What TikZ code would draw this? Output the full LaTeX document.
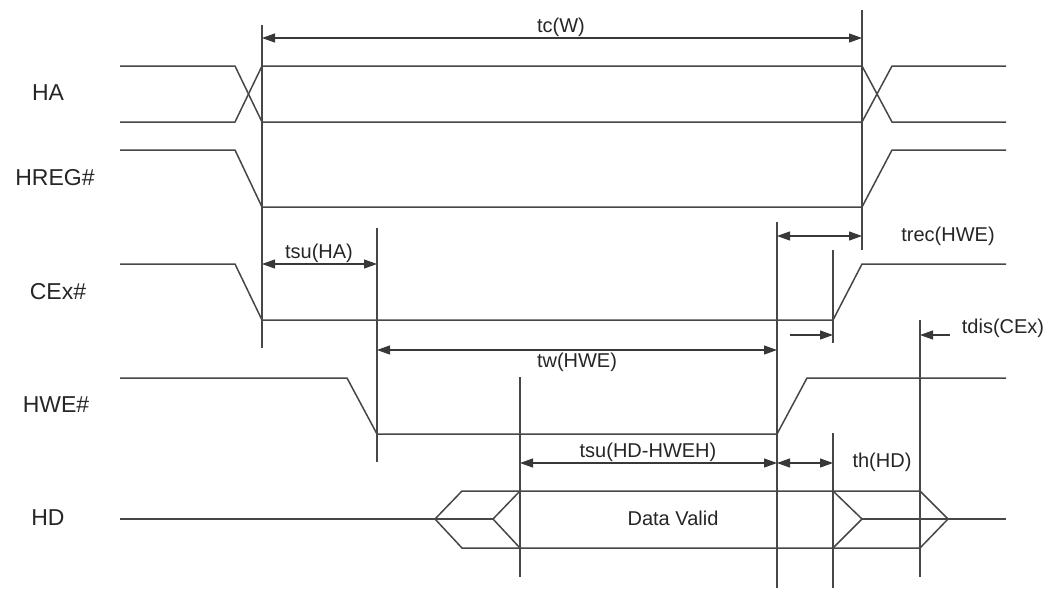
\documentclass[tikz,border=0pt]{standalone}
\usepackage{fontspec}
\setmainfont{Liberation Sans}
\usetikzlibrary{arrows.meta}
\begin{document}
\begin{tikzpicture}[x=1pt,y=-1pt,
  sig/.style={line width=1.5pt, draw=black!72, line join=miter},
  guide/.style={line width=1.4pt, draw=black!72},
  dimtip/.style={line width=1.2pt, draw=black!78},
  dim/.style={dimtip, {Triangle[length=13pt,width=9pt]}-{Triangle[length=13pt,width=9pt]}},
  dimr/.style={dimtip, -{Triangle[length=13pt,width=9pt]}},
  siglabel/.style={font=\fontsize{23}{27}\selectfont, text=black!85, inner sep=0pt},
  tlabel/.style={font=\fontsize{20}{24}\selectfont, text=black!85, inner sep=0pt}]
\useasboundingbox (0,0) rectangle (1050,590);

% signal labels
\node[siglabel] (lHA)   at (48,93)  {HA};
\node[siglabel] (lHREG) at (55,178) {HREG\#};
\node[siglabel] (lCEx)  at (58,292) {CEx\#};
\node[siglabel] (lHWE)  at (56,405) {HWE\#};
\node[siglabel] (lHD)   at (48,518) {HD};

% HA
\draw[sig] (120,66) -- (235,66) -- (262,122) -- (862,122) -- (892,66) -- (1006,66);
\draw[sig] (120,122) -- (235,122) -- (262,66) -- (862,66) -- (892,122) -- (1006,122);
% HREG#
\draw[sig] (120,150) -- (235,150) -- (262,207) -- (862,207) -- (892,150) -- (1006,150);
% CEx#
\draw[sig] (120,264) -- (235,264) -- (262,320) -- (833,320) -- (862,264) -- (1006,264);
% HWE#
\draw[sig] (120,378) -- (347,378) -- (377,434) -- (777,434) -- (807,378) -- (1006,378);
% HD
\draw[sig] (120,519) -- (493,519);
\draw[sig] (435,519) -- (462,491) -- (920,491) -- (948,519) -- (920,548) -- (462,548) -- cycle;
\draw[sig] (520,491) -- (493,519) -- (520,548);
\draw[sig] (833,491) -- (862,519) -- (833,548);
\draw[sig] (862,519) -- (1006,519);

% guide coordinates
\coordinate (g0t) at (262,25);  \coordinate (g0b) at (262,348);
\coordinate (g1t) at (862,10);  \coordinate (g1b) at (862,250);
\coordinate (g2t) at (377,228); \coordinate (g2b) at (377,462);
\coordinate (g3t) at (777,222); \coordinate (g3b) at (777,588);
\coordinate (g4t) at (833,250); \coordinate (g4b) at (833,343);
\coordinate (g5t) at (833,433); \coordinate (g5b) at (833,588);
\coordinate (g6t) at (920,320); \coordinate (g6b) at (920,577);
\coordinate (g7t) at (520,377); \coordinate (g7b) at (520,577);
\foreach \g in {0,...,7} { \draw[guide] (g\g t) -- (g\g b); }

% dimension points
\coordinate (tcA) at (262,38);  \coordinate (tcB) at (862,38);
\coordinate (suA) at (262,264); \coordinate (suB) at (377,264);
\coordinate (twA) at (377,350); \coordinate (twB) at (777,350);
\coordinate (trA) at (777,236); \coordinate (trB) at (862,236);
\coordinate (tdA) at (790,335); \coordinate (tdB) at (833,335);
\coordinate (tdC) at (950,335); \coordinate (tdD) at (920,335);
\coordinate (hdA) at (520,463); \coordinate (hdB) at (777,463);
\coordinate (thA) at (777,463); \coordinate (thB) at (833,463);

\draw[dim] (tcA) -- (tcB);
\draw[dim] (suA) -- (suB);
\draw[dim] (twA) -- (twB);
\draw[dim] (trA) -- (trB);
\draw[dimr] (tdA) -- (tdB);
\draw[dimr] (tdC) -- (tdD);
\draw[dim] (hdA) -- (hdB);
\draw[dim] (thA) -- (thB);

% timing labels
\node[tlabel] (ltc)  at (561,27)  {tc(W)};
\node[tlabel] (lsu)  at (319,253) {tsu(HA)};
\node[tlabel] (ltw)  at (577,362) {tw(HWE)};
\node[tlabel] (ltr)  at (948,236) {trec(HWE)};
\node[tlabel] (ltd)  at (1003,328) {tdis(CEx)};
\node[tlabel] (lhd)  at (648,452) {tsu(HD-HWEH)};
\node[tlabel] (lth)  at (882,462) {th(HD)};
\node[tlabel] (ldv)  at (673,518) {Data Valid};
\end{tikzpicture}
\end{document}
